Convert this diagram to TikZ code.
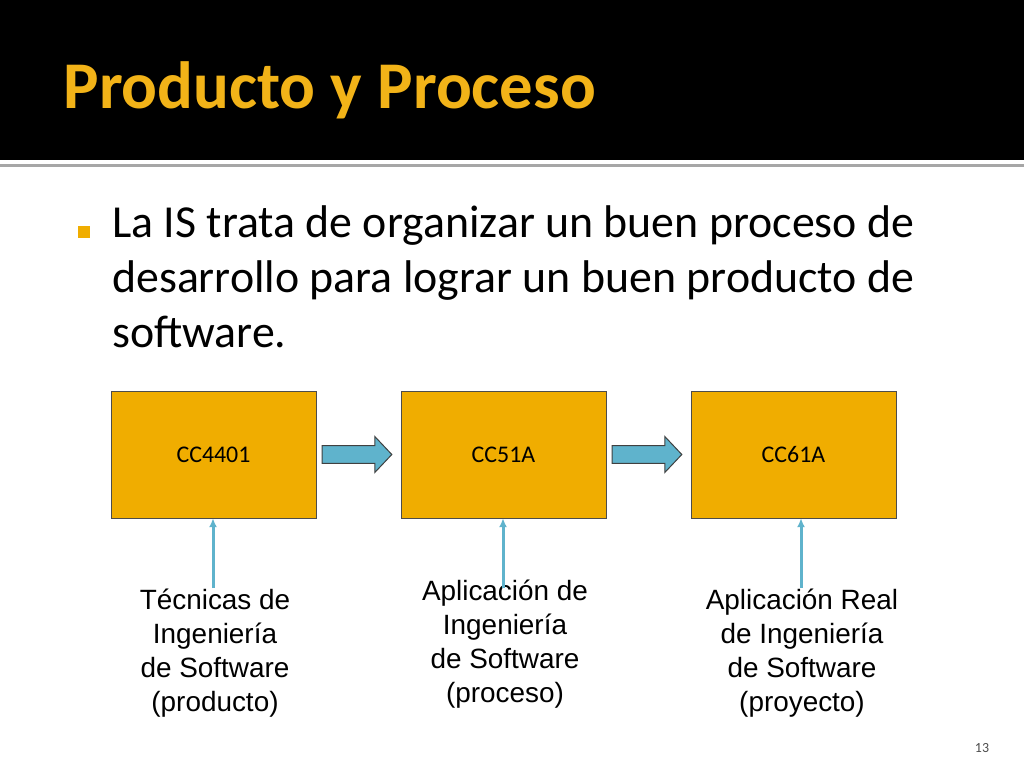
\documentclass[tikz,border=0pt]{standalone}
\usepackage{fontspec}
\setmainfont{Carlito}
\newfontfamily\arialfont{Liberation Sans}
\usetikzlibrary{positioning,calc,arrows.meta}
\definecolor{gold}{HTML}{F0AD00}
\definecolor{titlegold}{HTML}{F2B318}
\definecolor{arrowblue}{HTML}{5FB3CC}
\tikzset{>=latex}

\begin{document}
\begin{tikzpicture}[x=1bp,y=-1bp]

	\tikzstyle{course_box} = [draw=black!70, fill=gold, minimum width=205bp, minimum height=127bp, inner sep=0pt, font=\fontsize{24}{28}\selectfont]
	\tikzstyle{block_arrow} = [draw=black!75, fill=arrowblue, line width=1bp]
	\tikzstyle{up_arrow} = [-{Latex[length=9bp,width=8bp]}, draw=arrowblue, line width=3bp]
	\tikzstyle{topic} = [align=center, font=\arialfont\fontsize{28}{34}\selectfont]

%------------------------------------------------------------
	\useasboundingbox (0,0) rectangle (1024,768);
	\fill[black] (0,0) rectangle (1024,160);
	\fill[black!35] (0,164) rectangle (1024,167);
	\node[anchor=west, text=titlegold, font=\bfseries\fontsize{67}{80}\selectfont] (title) at (60,90) {Producto y Proceso};

%------------------------------------------------------------
	\fill[gold] (78,226) rectangle (90,238);
	\node[anchor=north west, align=left, inner sep=0pt, font=\fontsize{46}{55.5}\selectfont] (text) at (112,205)
		{La IS trata de organizar un buen proceso de\\desarrollo para lograr un buen producto de\\software.};

%------------------------------------------------------------
	\node[course_box] (c1) at (213.5,454.5) {CC4401};
	\node[course_box] (c2) at (503.5,454.5) {CC51A};
	\node[course_box] (c3) at (793.5,454.5) {CC61A};

	\foreach \i/\j/\n in {c1/c2/a1, c2/c3/a2} {
		\coordinate (\n s) at ($(\i.east)+(6,0)$);
		\coordinate (\n e) at ($(\j.west)+(-9,0)$);
		\draw[block_arrow] ([yshift=-9]\n s) -- ([xshift=-17,yshift=-9]\n e) -- ([xshift=-17,yshift=-18]\n e)
			-- (\n e) -- ([xshift=-17,yshift=18]\n e) -- ([xshift=-17,yshift=9]\n e) -- ([yshift=9]\n s) -- cycle;
	}

%------------------------------------------------------------
	\node[topic] (t1) at (215,653) {Técnicas de\\Ingeniería\\de Software\\(producto)};
	\node[topic] (t2) at (505,644) {Aplicación de\\Ingeniería\\de Software\\(proceso)};
	\node[topic] (t3) at (802,653) {Aplicación Real\\de Ingeniería\\de Software\\(proyecto)};

	\coordinate (b1) at (213,588);
	\coordinate (b2) at (503,588);
	\coordinate (b3) at (801,588);
	\draw[up_arrow] (b1) -- (b1 |- c1.south);
	\draw[up_arrow] (b2) -- (b2 |- c2.south);
	\draw[up_arrow] (b3) -- (b3 |- c3.south);

	\node[font=\fontsize{14}{16}\selectfont, text=black!70] (page) at (982,748) {13};

\end{tikzpicture}
\end{document}
